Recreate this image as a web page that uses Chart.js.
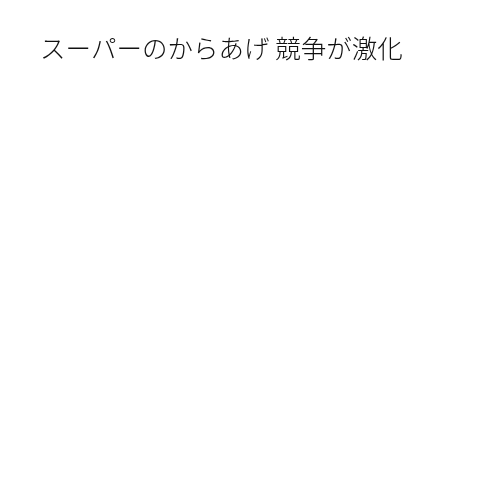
<!DOCTYPE html>
<html>
<head>
<meta charset="utf-8">
<script src="https://cdn.jsdelivr.net/npm/chart.js@4"></script>
<style>
html,body{margin:0;padding:0;background:#fff;}
#wrap{width:500px;height:500px;}
</style>
</head>
<body>
<div id="wrap"><canvas id="c"></canvas></div>
<script>
const titleText = "スーパーのからあげ 競争が激化";
const categories = [];
const seriesValues = [];

new Chart(document.getElementById('c'), {
  type: 'bar',
  data: {
    labels: categories,
    datasets: [{ label: '', data: seriesValues, backgroundColor: '#4a7ebb' }]
  },
  options: {
    responsive: true,
    maintainAspectRatio: false,
    animation: false,
    layout: { padding: { left: 40, top: 23, right: 20, bottom: 20 } },
    plugins: {
      legend: { display: false },
      tooltip: { enabled: false },
      title: {
        display: true,
        text: titleText,
        align: 'start',
        color: '#111',
        font: { family: '"Noto Sans CJK JP", sans-serif', size: 25.5, weight: '300' },
        padding: { top: 10, bottom: 10 }
      }
    },
    scales: {
      x: { display: false },
      y: { display: false }
    }
  }
});
</script>
</body>
</html>
